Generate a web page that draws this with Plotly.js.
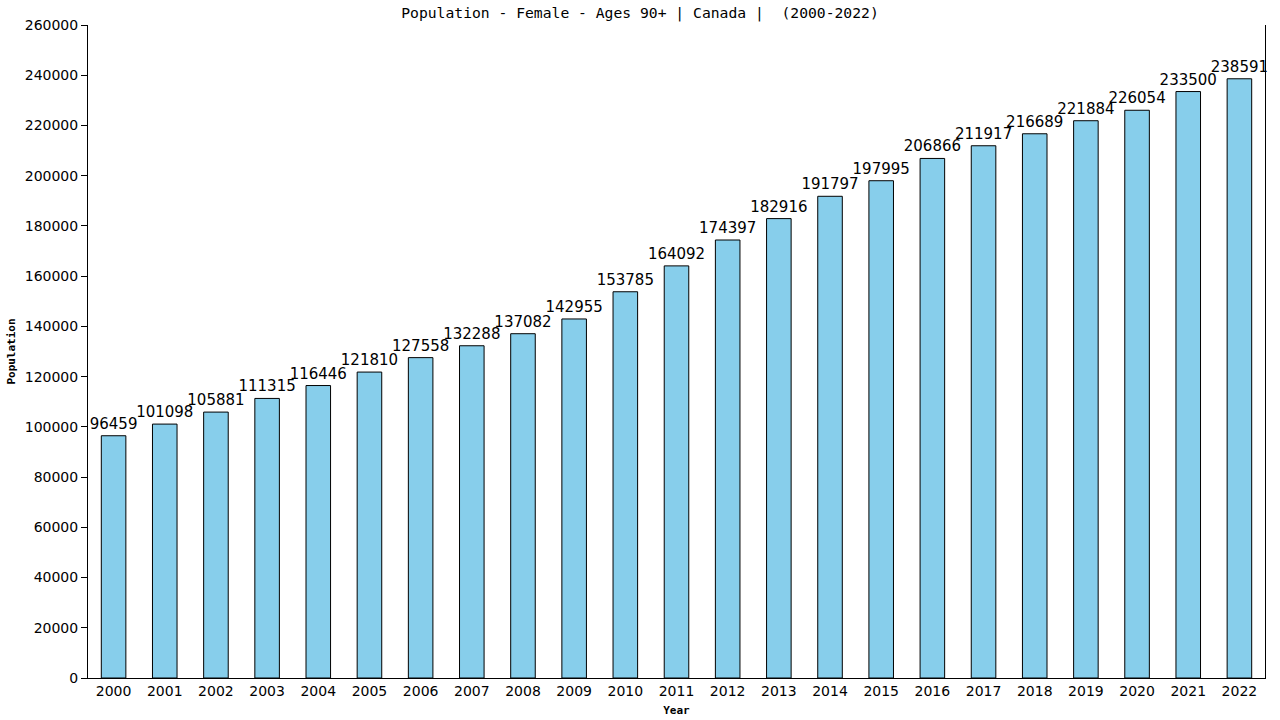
<!DOCTYPE html>
<html>
<head>
<meta charset="utf-8">
<script src="https://cdn.plot.ly/plotly-3.0.1.min.js"></script>
<style>
  html, body { margin: 0; padding: 0; background: #fff; }
  #chart { width: 1280px; height: 720px; }
</style>
</head>
<body>
<div id="chart"></div>
<script>
const years = ['2000', '2001', '2002', '2003', '2004', '2005', '2006', '2007', '2008', '2009', '2010', '2011',
    '2012', '2013', '2014', '2015', '2016', '2017', '2018', '2019', '2020', '2021', '2022'];
const population = [96459, 101098, 105881, 111315, 116446, 121810, 127558, 132288, 137082, 142955, 153785, 164092,
    174397, 182916, 191797, 197995, 206866, 211917, 216689, 221884, 226054, 233500, 238591];
const yTicks = [0, 20000, 40000, 60000, 80000, 100000, 120000, 140000, 160000, 180000, 200000, 220000, 240000, 260000];

const mono = 'DejaVu Sans Mono, monospace';
const sans = 'DejaVu Sans, Verdana, sans-serif';

const trace = {
    x: years,
    y: population,
    type: 'bar',
    text: population.map(String),
    textposition: 'outside',
    constraintext: 'none',
    cliponaxis: false,
    textfont: { family: sans, size: 15, color: '#000' },
    marker: { color: '#87CEEB', line: { color: '#000', width: 1 } },
    hoverinfo: 'x+y'
};

const layout = {
    width: 1280,
    height: 720,
    paper_bgcolor: '#fff',
    plot_bgcolor: '#fff',
    margin: { l: 88, r: 15, t: 25, b: 42 },
    bargap: 0.52,
    showlegend: false,
    title: {
        text: 'Population - Female - Ages 90+ | Canada |  (2000-2022)',
        font: { family: mono, size: 14.7, color: '#000' },
        x: 0.5,
        xref: 'container',
        y: 1 - 13 / 720,
        yref: 'container',
        yanchor: 'middle'
    },
    xaxis: {
        type: 'category',
        range: [-0.5, 22.5],
        showline: true,
        linecolor: '#000',
        linewidth: 1,
        ticks: '',
        showgrid: false,
        zeroline: false,
        tickfont: { family: sans, size: 14, color: '#000' },
        title: { text: 'Year', font: { family: mono, size: 11, color: '#000', weight: 'bold' }, standoff: 8 }
    },
    yaxis: {
        range: [0, 260000],
        tickvals: yTicks,
        ticktext: yTicks.map(String),
        showline: true,
        mirror: true,
        linecolor: '#000',
        linewidth: 1,
        ticks: 'outside',
        ticklen: 6,
        tickcolor: '#000',
        showgrid: false,
        zeroline: false,
        tickfont: { family: sans, size: 14, color: '#000' },
        title: { text: 'Population', font: { family: mono, size: 11, color: '#000', weight: 'bold' }, standoff: 6 }
    }
};

Plotly.newPlot('chart', [trace], layout, { staticPlot: true, displayModeBar: false });
</script>
</body>
</html>
